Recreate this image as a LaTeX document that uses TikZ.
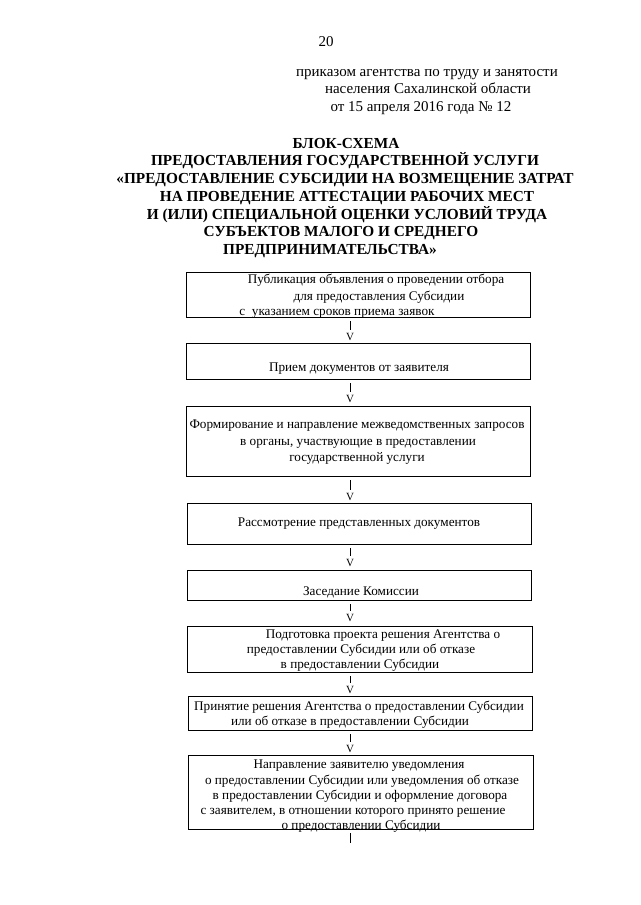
\documentclass[tikz,border=0pt]{standalone}
\usepackage{fontspec}
\setmainfont{Liberation Serif}
\begin{document}
\begin{tikzpicture}[x=1pt,y=-1pt,
  box/.style={draw, line width=0.9pt, inner sep=0pt, outer sep=0pt, anchor=north west},
  txt/.style={anchor=base, inner sep=0pt, font=\fontsize{13.2}{15}\selectfont},
  hdr/.style={anchor=base, inner sep=0pt, font=\fontsize{15}{17}\selectfont},
  ttl/.style={anchor=base, inner sep=0pt, font=\bfseries\fontsize{15.3}{17}\selectfont},
  vmark/.style={anchor=base, inner sep=0pt, font=\fontsize{11}{13}\selectfont},
  bar/.style={line width=0.8pt, shorten <=4pt, shorten >=3pt}]
\useasboundingbox (0,0) rectangle (640,905);
\fill[white] (0,0) rectangle (640,905);
% page number and header
\node[hdr] (pg) at (326,46) {20};
\node[hdr] (h1) at (427,76) {приказом агентства по труду и занятости};
\node[hdr] (h2) at (428,93) {населения Сахалинской области};
\node[hdr] (h3) at (421,111) {от 15 апреля 2016 года № 12};
% title
\node[ttl] (t1) at (346,148) {БЛОК-СХЕМА};
\node[ttl] (t2) at (345,165) {ПРЕДОСТАВЛЕНИЯ ГОСУДАРСТВЕННОЙ УСЛУГИ};
\node[ttl] (t3) at (345,183) {«ПРЕДОСТАВЛЕНИЕ СУБСИДИИ НА ВОЗМЕЩЕНИЕ ЗАТРАТ};
\node[ttl] (t4) at (347,201) {НА ПРОВЕДЕНИЕ АТТЕСТАЦИИ РАБОЧИХ МЕСТ};
\node[ttl] (t5) at (347,219) {И (ИЛИ) СПЕЦИАЛЬНОЙ ОЦЕНКИ УСЛОВИЙ ТРУДА};
\node[ttl] (t6) at (341,236) {СУБЪЕКТОВ МАЛОГО И СРЕДНЕГО};
\node[ttl] (t7) at (330,254) {ПРЕДПРИНИМАТЕЛЬСТВА»};
% boxes
\node[box, minimum width=344pt, minimum height=45pt] (b1) at (186,272) {};
\node[box, minimum width=344pt, minimum height=36pt] (b2) at (186,343) {};
\node[box, minimum width=344pt, minimum height=70pt] (b3) at (186,406) {};
\node[box, minimum width=344pt, minimum height=41pt] (b4) at (187,503) {};
\node[box, minimum width=344pt, minimum height=30pt] (b5) at (187,570) {};
\node[box, minimum width=345pt, minimum height=46pt] (b6) at (187,626) {};
\node[box, minimum width=344pt, minimum height=34pt] (b7) at (188,696) {};
\node[box, minimum width=345pt, minimum height=74pt] (b8) at (188,755) {};
% box texts
\node[txt] (b1a) at (376,283) {Публикация объявления о проведении отбора};
\node[txt] (b1b) at (379,300) {для предоставления Субсидии};
\node[txt] (b1c) at (337,315) {с\ \ указанием сроков приема заявок};
\node[txt] (b2a) at (359,371) {Прием документов от заявителя};
\node[txt] (b3a) at (357,428) {Формирование и направление межведомственных запросов};
\node[txt] (b3b) at (358,445) {в органы, участвующие в предоставлении};
\node[txt] (b3c) at (357,461) {государственной услуги};
\node[txt] (b4a) at (359,526) {Рассмотрение представленных документов};
\node[txt] (b5a) at (361,595) {Заседание Комиссии};
\node[txt] (b6a) at (383,638) {Подготовка проекта решения Агентства о};
\node[txt] (b6b) at (361,653) {предоставлении Субсидии или об отказе};
\node[txt] (b6c) at (360,668) {в предоставлении Субсидии};
\node[txt] (b7a) at (359,710) {Принятие решения Агентства о предоставлении Субсидии};
\node[txt] (b7b) at (350,725) {или об отказе в предоставлении Субсидии};
\node[txt] (b8a) at (359,768) {Направление заявителю уведомления};
\node[txt] (b8b) at (362,784) {о предоставлении Субсидии или уведомления об отказе};
\node[txt] (b8c) at (360,799) {в предоставлении Субсидии и оформление договора};
\node[txt] (b8d) at (353,814) {с заявителем, в отношении которого принято решение};
\node[txt] (b8e) at (361,829) {о предоставлении Субсидии};
% arrow marks
\node[vmark] (v1) at (350,340) {V};
\node[vmark] (v2) at (350,402) {V};
\node[vmark] (v3) at (350,500) {V};
\node[vmark] (v4) at (350,566) {V};
\node[vmark] (v5) at (350,621) {V};
\node[vmark] (v6) at (350,693) {V};
\node[vmark] (v7) at (350,752) {V};
\coordinate (vend) at (350,843);
\draw[bar] (b1.south -| v1.north) -- (v1.north);
\draw[bar] (b2.south -| v2.north) -- (v2.north);
\draw[bar] (b3.south -| v3.north) -- (v3.north);
\draw[bar] (b4.south -| v4.north) -- (v4.north);
\draw[bar] (b5.south -| v5.north) -- (v5.north);
\draw[bar] (b6.south -| v6.north) -- (v6.north);
\draw[bar] (b7.south -| v7.north) -- (v7.north);
\draw[bar, shorten >=0pt] (b8.south -| vend) -- (vend);
\end{tikzpicture}
\end{document}
